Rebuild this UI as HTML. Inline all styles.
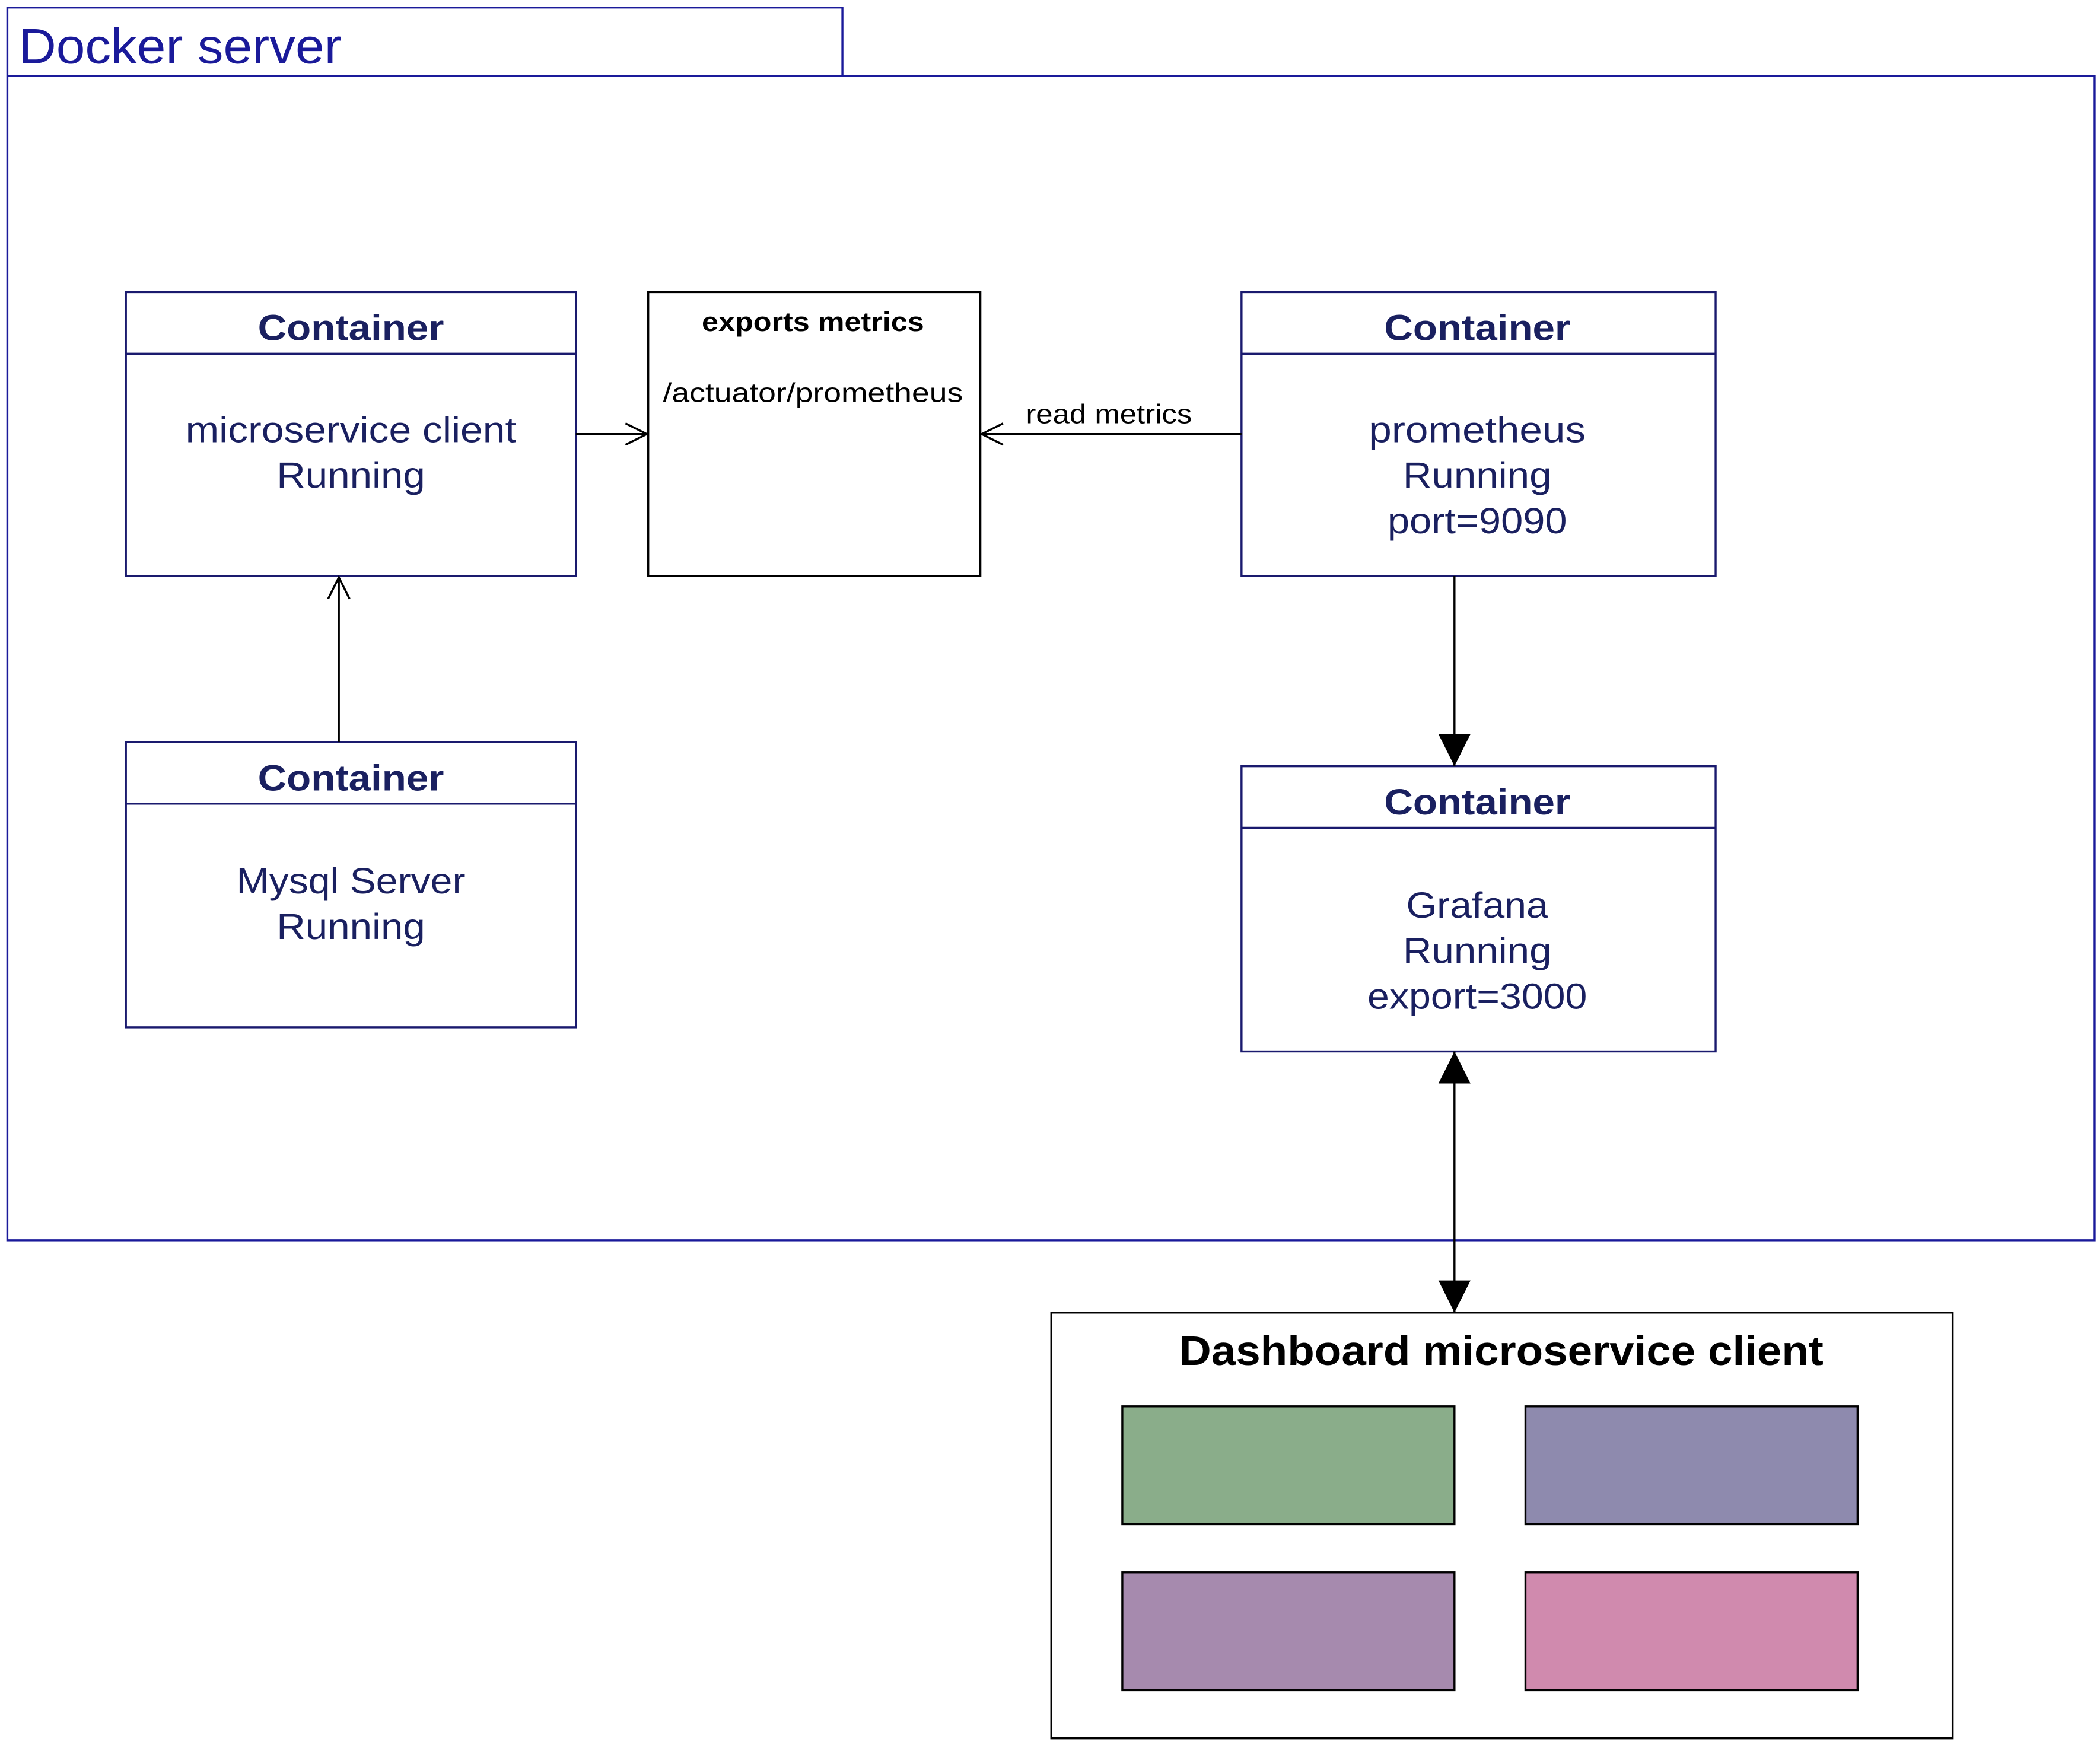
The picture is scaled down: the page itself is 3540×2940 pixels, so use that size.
<!DOCTYPE html>
<html><head><meta charset="utf-8"><style>
html,body{margin:0;padding:0;background:#fff;}
svg{display:block;}
text{font-family:"Liberation Sans",sans-serif;}
</style></head><body>
<svg width="3540" height="2940" viewBox="0 0 1568 1302" xmlns="http://www.w3.org/2000/svg">
<defs>
<marker id="open" markerWidth="20" markerHeight="20" refX="18" refY="10" orient="auto" markerUnits="userSpaceOnUse">
<path d="M2,2 L18,10 L2,18" fill="none" stroke="#000" stroke-width="1.5"/>
</marker>
<marker id="fill" markerWidth="26" markerHeight="24" refX="24" refY="12" orient="auto-start-reverse" markerUnits="userSpaceOnUse">
<path d="M0,0 L24,12 L0,24 Z" fill="#000"/>
</marker>
</defs>
<rect width="1568" height="1302" fill="#fff"/>
<path d="M5.5,56 L5.5,5.5 L629,5.5 L629,56" fill="none" stroke="#1a1a9a" stroke-width="1.5"/>
<rect x="5.5" y="56.5" width="1558.5" height="869.5" fill="none" stroke="#1a1a9a" stroke-width="1.5"/>
<text x="14" y="47" font-size="37" fill="#1a1a9a" textLength="241" lengthAdjust="spacingAndGlyphs">Docker server</text>

<g stroke="#1a1a6e" stroke-width="1.5" fill="none">
<rect x="94" y="218" width="336" height="212"/><line x1="94" y1="264" x2="430" y2="264"/>
<rect x="927" y="218" width="354" height="212"/><line x1="927" y1="264" x2="1281" y2="264"/>
<rect x="94" y="554" width="336" height="213"/><line x1="94" y1="600" x2="430" y2="600"/>
<rect x="927" y="572" width="354" height="213"/><line x1="927" y1="618" x2="1281" y2="618"/>
</g>
<g fill="#1a2060" text-anchor="middle" lengthAdjust="spacingAndGlyphs">
<text x="262" y="254" font-size="27" font-weight="bold" textLength="139" lengthAdjust="spacingAndGlyphs">Container</text>
<text x="262" y="330" font-size="27" textLength="247" lengthAdjust="spacingAndGlyphs">microservice client</text>
<text x="262" y="364" font-size="27" textLength="111" lengthAdjust="spacingAndGlyphs">Running</text>
<text x="1103" y="254" font-size="27" font-weight="bold" textLength="139" lengthAdjust="spacingAndGlyphs">Container</text>
<text x="1103" y="330" font-size="27" textLength="162" lengthAdjust="spacingAndGlyphs">prometheus</text>
<text x="1103" y="364" font-size="27" textLength="111" lengthAdjust="spacingAndGlyphs">Running</text>
<text x="1103" y="398" font-size="27" textLength="134" lengthAdjust="spacingAndGlyphs">port=9090</text>
<text x="262" y="590" font-size="27" font-weight="bold" textLength="139" lengthAdjust="spacingAndGlyphs">Container</text>
<text x="262" y="667" font-size="27" textLength="171" lengthAdjust="spacingAndGlyphs">Mysql Server</text>
<text x="262" y="701" font-size="27" textLength="111" lengthAdjust="spacingAndGlyphs">Running</text>
<text x="1103" y="608" font-size="27" font-weight="bold" textLength="139" lengthAdjust="spacingAndGlyphs">Container</text>
<text x="1103" y="685" font-size="27" textLength="106" lengthAdjust="spacingAndGlyphs">Grafana</text>
<text x="1103" y="719" font-size="27" textLength="111" lengthAdjust="spacingAndGlyphs">Running</text>
<text x="1103" y="753" font-size="27" textLength="164" lengthAdjust="spacingAndGlyphs">export=3000</text>
</g>
<rect x="484" y="218" width="248" height="212" fill="none" stroke="#000" stroke-width="1.5"/>
<text x="607" y="247" font-size="20" font-weight="bold" text-anchor="middle" textLength="166" lengthAdjust="spacingAndGlyphs">exports metrics</text>
<text x="607" y="300" font-size="20" text-anchor="middle" textLength="224" lengthAdjust="spacingAndGlyphs">/actuator/prometheus</text>

<g stroke="#000" stroke-width="1.5" fill="none">
<line x1="430" y1="324" x2="483" y2="324" marker-end="url(#open)"/>
<line x1="927" y1="324" x2="733" y2="324" marker-end="url(#open)"/>
<line x1="253" y1="554" x2="253" y2="431" marker-end="url(#open)"/>
<line x1="1086" y1="430" x2="1086" y2="572" marker-end="url(#fill)"/>
<line x1="1086" y1="785" x2="1086" y2="980" marker-start="url(#fill)" marker-end="url(#fill)"/>
</g>
<text x="766" y="316" font-size="20" textLength="124" lengthAdjust="spacingAndGlyphs">read metrics</text>

<rect x="785" y="980" width="673" height="318" fill="none" stroke="#000" stroke-width="1.5"/>
<text x="1121" y="1019" font-size="31" font-weight="bold" text-anchor="middle" textLength="481" lengthAdjust="spacingAndGlyphs">Dashboard microservice client</text>
<g stroke="#000" stroke-width="1.5">
<rect x="838" y="1050" width="248" height="88" fill="#8aad8a"/>
<rect x="1139" y="1050" width="248" height="88" fill="#8e8aae"/>
<rect x="838" y="1174" width="248" height="88" fill="#a68aae"/>
<rect x="1139" y="1174" width="248" height="88" fill="#d08aae"/>
</g>
</svg>
</body></html>
